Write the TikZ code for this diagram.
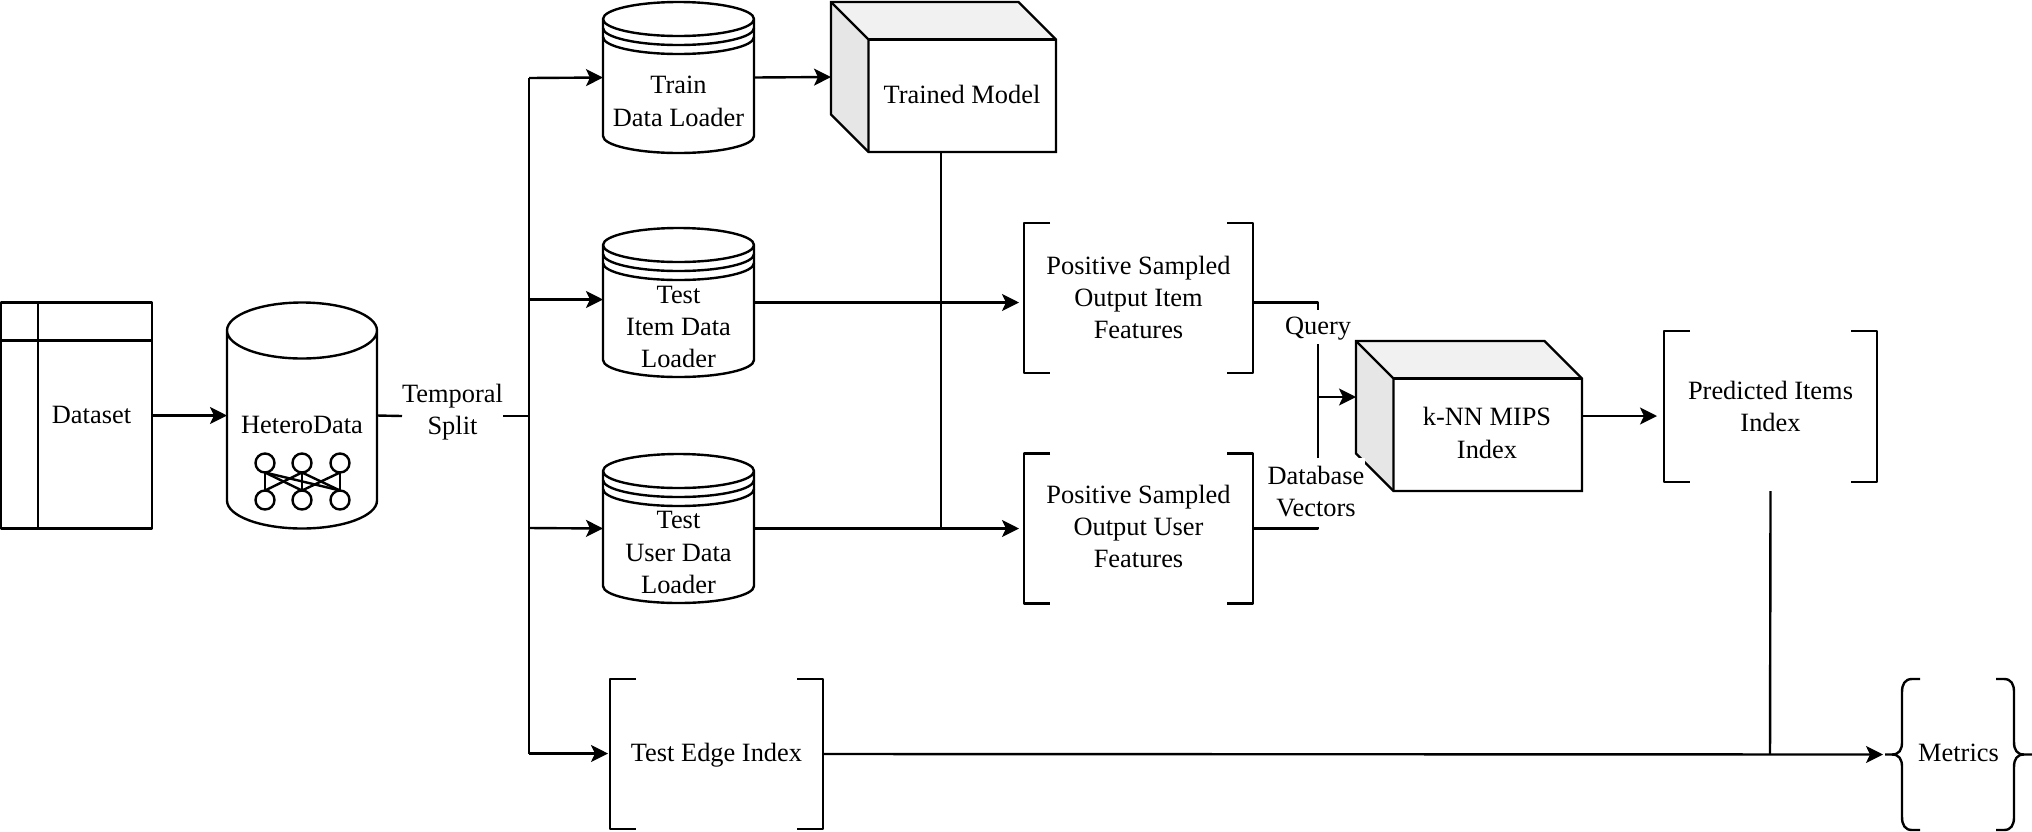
\documentclass[tikz,border=0pt]{standalone}
\usepackage{fontspec}
\setmainfont{Liberation Serif}
\usetikzlibrary{arrows.meta}
\definecolor{sidegray}{HTML}{E6E6E6}
\definecolor{topgray}{HTML}{F1F1F1}
\newcommand\lbl[3]{\hspace*{#1pt}\raisebox{\dimexpr 0pt-(#2pt)/2-3.3pt\relax}[0pt][0pt]{\begin{tabular}[c]{@{}c@{}}#3\end{tabular}}}
% bracket drawn round a named node
\newcommand\brk[1]{\draw[ln] ([xshift=13pt]#1.north west) -- (#1.north west) -- (#1.south west) -- ([xshift=13pt]#1.south west);
 \draw[ln] ([xshift=-13pt]#1.north east) -- (#1.north east) -- (#1.south east) -- ([xshift=-13pt]#1.south east);}
% cylinder drawn round a named node: rx, ry in pt
\newcommand\cyl[3]{\draw[ln] ([yshift=-#3pt]#1.north west) -- ([yshift=#3pt]#1.south west) arc[start angle=180,end angle=360,x radius=#2pt,y radius=#3pt] -- ([yshift=-#3pt]#1.north east) arc[start angle=0,end angle=180,x radius=#2pt,y radius=#3pt] arc[start angle=180,end angle=360,x radius=#2pt,y radius=#3pt];}
% box with shaded depth: node is the whole outline, depth 18.75pt
\newcommand\cube[1]{
 \fill[sidegray] (#1.north west) -- ([xshift=18.75pt,yshift=-18.75pt]#1.north west) -- ([xshift=18.75pt]#1.south west) -- ([yshift=18.75pt]#1.south west) -- cycle;
 \fill[topgray] (#1.north west) -- ([xshift=-18.75pt]#1.north east) -- ([yshift=-18.75pt]#1.north east) -- ([xshift=18.75pt,yshift=-18.75pt]#1.north west) -- cycle;
 \draw[ln,line join=miter] (#1.north west) -- ([xshift=-18.75pt]#1.north east) -- ([yshift=-18.75pt]#1.north east) -- (#1.south east) -- ([xshift=18.75pt]#1.south west) -- ([yshift=18.75pt]#1.south west) -- cycle;
 \draw[ln,line join=miter] (#1.north west) -- ([xshift=18.75pt,yshift=-18.75pt]#1.north west) -- ([xshift=18.75pt]#1.south west);
 \draw[ln] ([xshift=18.75pt,yshift=-18.75pt]#1.north west) -- ([yshift=-18.75pt]#1.north east);}
\tikzset{
 ln/.style={line width=1.2pt,line join=round},
 arr/.style={ln,-{Stealth[length=8.5pt,width=8.5pt,inset=2pt]}},
 sized/.style 2 args={minimum width=#1*0.5pt,minimum height=#2*0.5pt,inner sep=0pt,outer sep=0pt},
 every node/.style={font=\fontsize{13.2}{16.2}\selectfont},
 dot/.style={circle,draw,line width=1.2pt,minimum size=9.5pt,inner sep=0pt,outer sep=0pt},
 tag/.style={inner sep=0pt,outer sep=0pt,fill=white}
}
\begin{document}
\begin{tikzpicture}[x=0.5pt,y=-0.5pt]
\useasboundingbox (0,0) rectangle (2032,831);
% named points on the connectors
\coordinate (trunkA) at (529,78);
\coordinate (trunkB) at (529,299.5);
\coordinate (trunkS) at (529,416);
\coordinate (trunkC) at (529,528);
\coordinate (trunkD) at (529,753.5);
\coordinate (joinQ) at (1318,397);
\coordinate (joinModel) at (941,528);
\coordinate (joinM) at (1770,754);

% shapes
\node[sized={151}{226},draw,ln] (dataset) at (76.5,415.5) {\lbl{15}{1}{Dataset}};
\draw[ln] ([xshift=18.5pt]dataset.north west) -- ([xshift=18.5pt]dataset.south west);
\draw[ln] ([yshift=-19pt]dataset.north west) -- ([yshift=-19pt]dataset.north east);

\node[sized={150}{226}] (hetero) at (302,415.5) {\lbl{0}{10.5}{HeteroData}};
\cyl{hetero}{37.5}{14}
\node[dot] (u1) at (265,463) {};
\node[dot] (u2) at (302,463) {};
\node[dot] (u3) at (340,463) {};
\node[dot] (d1) at (265,500) {};
\node[dot] (d2) at (302,500) {};
\node[dot] (d3) at (340,500) {};
\foreach \a/\b in {u1/d1,u1/d2,u1/d3,u2/d1,u2/d2,u2/d3,u3/d2,u3/d3}
  \draw[ln] (\a.south) -- (\b.north);

\node[sized={151}{151}] (train) at (678.5,77.5) {\lbl{0}{25.5}{Train\\Data Loader}};
\cyl{train}{37.75}{8.5}
\node[sized={151}{149}] (item) at (678.5,302.5) {\lbl{0}{26}{Test\\Item Data\\Loader}};
\cyl{item}{37.75}{8.5}
\node[sized={151}{149}] (user) at (678.5,528.5) {\lbl{0}{25.5}{Test\\User Data\\Loader}};
\cyl{user}{37.75}{8.5}
\foreach \n in {train,item,user}{
 \draw[ln] ([yshift=-13pt]\n.north west) arc[start angle=180,end angle=360,x radius=37.75pt,y radius=8.5pt];
 \draw[ln] ([yshift=-17.5pt]\n.north west) arc[start angle=180,end angle=360,x radius=37.75pt,y radius=8.5pt];
}

\node[sized={225}{150}] (model) at (943.5,77) {\lbl{18.5}{19.5}{Trained Model}};
\cube{model}
\node[sized={226}{150}] (knn) at (1469,416) {\lbl{18}{19}{k-NN MIPS\\Index}};
\cube{knn}

\node[sized={229}{150}] (f1) at (1138.5,298) {\lbl{0}{1.5}{Positive Sampled\\Output Item\\Features}};
\brk{f1}
\node[sized={229}{150}] (f2) at (1138.5,528.5) {\lbl{0}{0}{Positive Sampled\\Output User\\Features}};
\brk{f2}
\node[sized={213}{151}] (pred) at (1770.5,406.5) {\lbl{0}{2}{Predicted Items\\Index}};
\brk{pred}
\node[sized={213}{150}] (edge) at (716.5,754) {\lbl{0}{0}{Test Edge Index}};
\brk{edge}
\node[sized={147}{151}] (metrics) at (1958.5,754.5) {\lbl{0}{0}{Metrics}};
\draw[ln] (1920,679) -- (1912,679) .. controls (1905,679) and (1902,684) .. (1902,692) -- (1902,742) .. controls (1902,750) and (1899,754.5) .. (1892,754.5) -- (metrics.west);
\draw[ln] (1920,830) -- (1912,830) .. controls (1905,830) and (1902,825) .. (1902,817) -- (1902,767) .. controls (1902,759) and (1899,754.5) .. (1892,754.5);
\draw[ln] (1996,679) -- (2004,679) .. controls (2011,679) and (2014,684) .. (2014,692) -- (2014,742) .. controls (2014,750) and (2017,754.5) .. (2024,754.5) -- (metrics.east);
\draw[ln] (1996,830) -- (2004,830) .. controls (2011,830) and (2014,825) .. (2014,817) -- (2014,767) .. controls (2014,759) and (2017,754.5) .. (2024,754.5);

% labels that interrupt connectors
\node[sized={101}{66},tag] (split) at (452.5,416) {\lbl{0}{-4.5}{Temporal\\Split}};
\node[sized={72}{34},tag] (query) at (1318,327) {\lbl{0}{0}{Query}};
\node[sized={97}{69},tag] (dbv) at (1316,492.5) {\lbl{0}{1}{Database\\Vectors}};

% connectors
\draw[arr] (dataset.east) -- (hetero.west);
\draw[ln] (hetero.east) -- (split.west);
\draw[ln] (split.east) -- (trunkS);
\draw[ln] (trunkA) -- (trunkD);
\draw[arr] (trunkA) -- (train.west);
\draw[arr] (trunkB) -- (trunkB -| item.west);
\draw[arr] (trunkC) -- (user.west);
\draw[arr,shorten >=1pt] (trunkD) -- (trunkD -| edge.west);
\draw[arr] (train.east) -- (model.west);
\draw[ln] ([xshift=-1.25pt]model.south) -- (joinModel);
\draw[arr,shorten >=2.5pt] (item.east) -- (item.east -| f1.west);
\draw[arr,shorten >=2.5pt] (user.east) -- (f2.west);
\draw[ln] (item.east -| f1.east) -| (query.north);
\draw[ln] (query.south) -- (joinQ);
\draw[ln] (f2.east) -| (dbv.south -| joinQ);
\draw[ln] (dbv.north -| joinQ) -- (joinQ);
\draw[arr] (joinQ) -- (joinQ -| knn.west);
\draw[arr,shorten >=3.5pt] (knn.east) -- (knn.east -| pred.west);
\draw[ln] ([yshift=-4.5pt]pred.south) -- (joinM);
\draw[arr,shorten >=1pt] (edge.east) -- (metrics.west);
\end{tikzpicture}
\end{document}
